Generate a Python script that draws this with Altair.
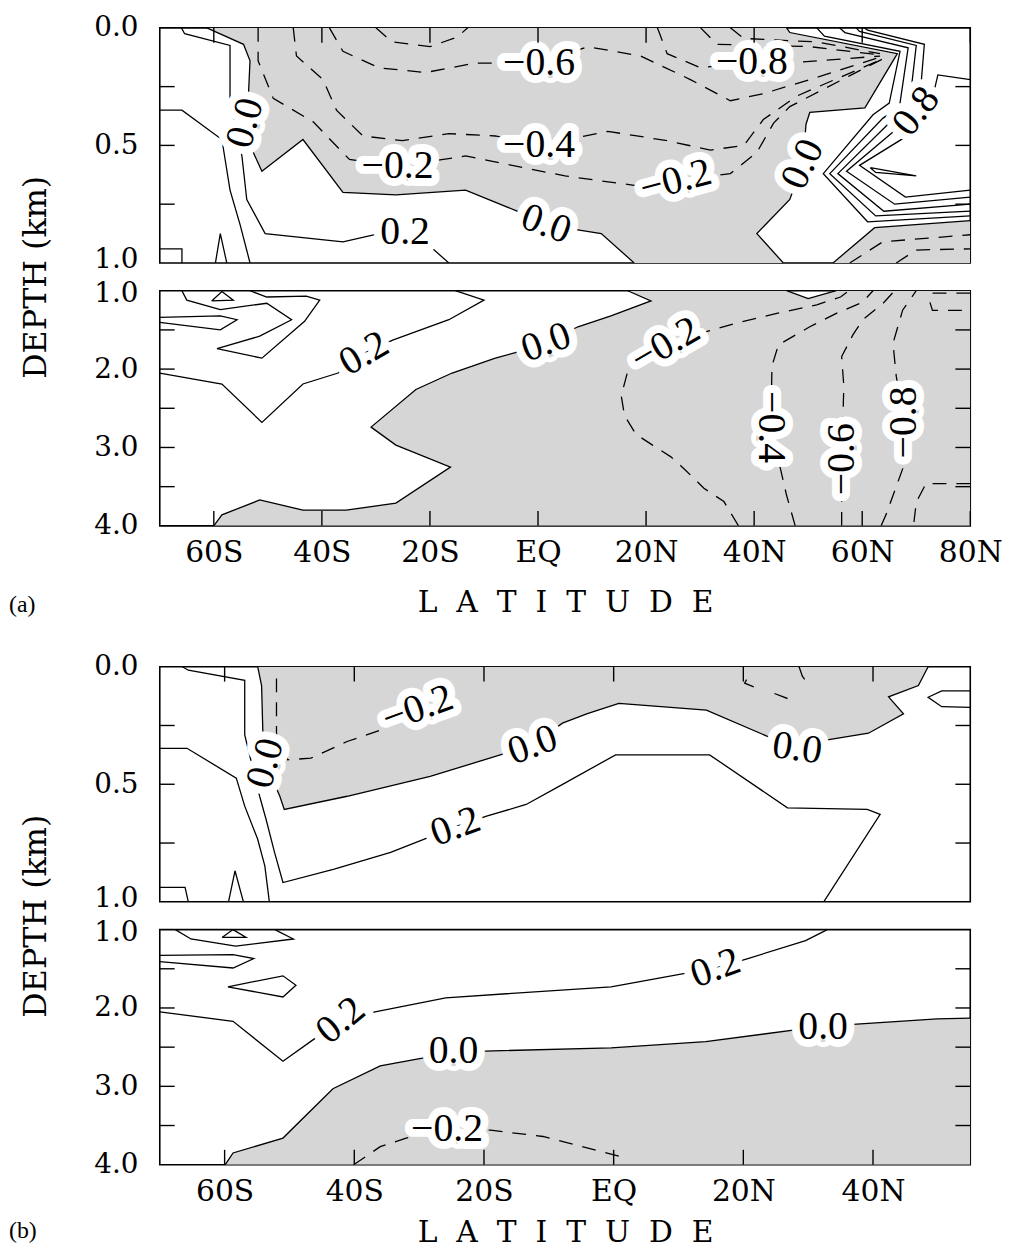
import altair as alt
import pandas as pd

FONT = "DejaVu Serif"
LABEL_FONT = "Liberation Serif"
TAG_FONT = "Liberation Serif"
SHADE = "#d6d6d6"
W = 817
H = 237
TICK = 15
LABEL_SIZE = 40
AXIS_SIZE = 28
TITLE_SIZE = 30

# ---------------- axes ----------------
LAT_DOMAIN_A = [-70, 80]
LAT_DOMAIN_B = [-70, 55]
LAT_TICKS_A = [-60, -40, -20, 0, 20, 40, 60, 80]
LAT_NAMES_A = ["60S", "40S", "20S", "EQ", "20N", "40N", "60N", "80N"]
LAT_TICKS_B = [-60, -40, -20, 0, 20, 40]
LAT_NAMES_B = ["60S", "40S", "20S", "EQ", "20N", "40N"]
DEPTH_UP = [0.0, 1.0]
DEPTH_LO = [1.0, 4.0]
DEPTH_LABELS_UP = [0.0, 0.5, 1.0]
DEPTH_LABELS_LO = [1.0, 2.0, 3.0, 4.0]
DEPTH_MINOR_UP = [0.25, 0.5, 0.75]
DEPTH_MINOR_LO = [1.5, 2.0, 2.5, 3.0, 3.5]

# ---------------- panel (a), 0-1 km: contours as (latitude, depth km) ----------------
A_UP_ZERO_W = [(-61.3, 0.0), (-54.5, 0.07), (-53.3, 0.14), (-53.6, 0.29), (-52.7, 0.53), (-51.1, 0.61),
               (-43.5, 0.475), (-36.1, 0.70), (-26.3, 0.71), (-13.4, 0.69), (-3.3, 0.785), (1.5, 0.835),
               (6.2, 0.855), (11.7, 0.875), (17.8, 1.0)]
A_UP_ZERO_E = [(46.0, 0.0), (46.6, 0.02), (66.5, 0.11), (60.5, 0.34), (50.3, 0.36), (49.6, 0.41),
               (49.0, 0.58), (46.6, 0.73), (40.5, 0.875), (45.4, 1.0)]
A_UP_ZERO_NE = [(54.6, 1.0), (62.3, 0.85), (80.0, 0.82)]
A_UP_POS_1 = [(-66.0, 0.0), (-65.4, 0.025), (-57.0, 0.075), (-57.0, 0.30), (-54.8, 0.545), (-53.9, 0.73),
              (-50.5, 0.875), (-36.1, 0.91), (-29.4, 0.875), (-24.6, 0.87), (-20.2, 0.925), (-16.5, 1.0)]
A_UP_POS_2 = [(-70.0, 0.35), (-65.9, 0.35), (-58.5, 0.475), (-57.0, 0.69), (-55.1, 0.84), (-53.3, 1.0)]
A_UP_POS_3 = [(-59.7, 1.0), (-58.8, 0.875), (-57.6, 1.0)]
A_UP_POS_4 = [(-70.0, 0.94), (-65.9, 0.94), (-65.9, 1.0)]
A_UP_FRONT_1 = [(51.6, 0.0), (53.0, 0.035), (67.0, 0.10), (65.0, 0.32), (62.0, 0.37), (52.8, 0.62),
                (61.0, 0.825), (80.0, 0.80)]
A_UP_FRONT_2 = [(55.8, 0.0), (56.8, 0.02), (68.5, 0.085), (66.9, 0.335), (63.8, 0.385), (54.0, 0.62),
                (62.5, 0.80), (80.0, 0.78)]
A_UP_FRONT_3 = [(58.9, 0.0), (59.5, 0.015), (70.0, 0.075), (68.7, 0.335), (65.0, 0.405), (55.5, 0.62),
                (64.0, 0.78), (80.0, 0.75)]
A_UP_FRONT_4 = [(60.4, 0.0), (61.0, 0.01), (71.5, 0.07), (70.6, 0.32), (66.9, 0.42), (57.1, 0.61),
                (66.0, 0.75), (80.0, 0.72)]
A_UP_FRONT_5 = [(80.0, 0.22), (74.0, 0.20), (72.5, 0.35), (69.0, 0.45), (59.5, 0.585), (68.0, 0.72),
                (80.0, 0.69)]
A_UP_PEAK = [(61.5, 0.595), (70.0, 0.63), (62.5, 0.615), (61.5, 0.595)]
A_UP_NEG_02 = [(-51.8, 0.0), (-51.8, 0.14), (-49.0, 0.30), (-41.6, 0.40), (-34.9, 0.56), (-26.0, 0.59),
               (-13.4, 0.545), (5.0, 0.63), (17.8, 0.67), (25.5, 0.65), (35.6, 0.62), (40.5, 0.53),
               (43.6, 0.405), (46.6, 0.335), (58.0, 0.20), (64.0, 0.13)]
A_UP_NEG_04 = [(-45.3, 0.0), (-44.7, 0.12), (-39.8, 0.22), (-37.3, 0.35), (-32.4, 0.46), (-25.1, 0.48),
               (-16.5, 0.45), (-7.9, 0.46), (0.2, 0.50), (12.9, 0.44), (23.9, 0.48), (31.9, 0.52),
               (38.1, 0.50), (41.7, 0.39), (47.9, 0.29), (63.5, 0.135)]
A_UP_NEG_06 = [(-38.6, 0.0), (-36.1, 0.10), (-29.4, 0.17), (-20.8, 0.19), (-11.6, 0.15), (0.2, 0.15),
               (9.2, 0.08), (19.0, 0.12), (28.2, 0.22), (35.6, 0.31), (41.7, 0.28), (50.3, 0.22),
               (63.3, 0.125)]
A_UP_NEG_08 = [(22.1, 0.0), (23.9, 0.11), (30.1, 0.17), (39.6, 0.145), (49.1, 0.145), (63.3, 0.12)]
A_UP_NEG_10 = [(30.1, 0.0), (33.1, 0.07), (50.3, 0.08), (63.3, 0.115)]
A_UP_NEG_12 = [(35.6, 0.0), (38.1, 0.045), (51.6, 0.06), (63.3, 0.11)]
A_UP_NEG_TOP = [(-30.0, 0.0), (-27.0, 0.06), (-20.0, 0.08), (-15.0, 0.04), (-13.0, 0.0)]
A_UP_NEG_NE1 = [(57.7, 1.0), (63.8, 0.91), (80.0, 0.88)]
A_UP_NEG_NE2 = [(66.3, 1.0), (70.0, 0.945), (80.0, 0.94)]
A_UP_LABELS = [("−0.6", 0.2, 0.15, 0), ("−0.4", 0.2, 0.50, 0), ("−0.2", -26.0, 0.59, 0),
               ("−0.2", 25.5, 0.65, 345), ("−0.8", 39.6, 0.145, 0), ("0.0", -54.2, 0.405, 285),
               ("0.0", 1.5, 0.835, 20), ("0.0", 49.0, 0.58, 295), ("0.2", -24.6, 0.87, 0),
               ("0.8", 70.0, 0.355, 308)]

# ---------------- panel (a), 1-4 km ----------------
A_LO_ZERO = [(-60.0, 4.0), (-58.5, 3.86), (-51.5, 3.67), (-43.5, 3.80), (-35.5, 3.80), (-26.3, 3.71),
             (-16.2, 3.25), (-26.3, 2.97), (-30.9, 2.74), (-22.6, 2.26), (-15.9, 2.05), (-7.9, 1.86),
             (-4.2, 1.79), (1.5, 1.66), (7.4, 1.46), (13.5, 1.32), (20.9, 1.13), (16.6, 1.0)]
A_LO_ZERO_V = [(46.0, 1.0), (50.0, 1.10), (55.2, 1.0)]
A_LO_POS_1 = [(-65.9, 1.0), (-65.0, 1.12), (-58.8, 1.24), (-50.2, 1.16), (-45.6, 1.37), (-51.5, 1.58),
              (-59.4, 1.74), (-51.1, 1.86), (-43.2, 1.39), (-40.4, 1.12), (-42.9, 1.07), (-50.2, 1.08),
              (-53.3, 1.0)]
A_LO_POS_2 = [(-60.4, 1.13), (-58.5, 1.01), (-56.4, 1.12), (-60.4, 1.13)]
A_LO_POS_3 = [(-70.0, 1.34), (-58.8, 1.32), (-55.7, 1.37), (-58.8, 1.50), (-70.0, 1.405)]
A_LO_POS_02 = [(-70.0, 2.05), (-58.5, 2.19), (-51.1, 2.68), (-43.5, 2.19), (-37.0, 2.05), (-32.2, 1.80),
               (-26.9, 1.63), (-16.5, 1.37), (-10.0, 1.12), (-15.3, 1.0)]
A_LO_NEG_02 = [(37.1, 4.0), (34.4, 3.69), (30.7, 3.52), (27.3, 3.29), (24.6, 3.12), (21.2, 2.97),
               (18.1, 2.83), (16.0, 2.59), (15.4, 2.34), (16.6, 2.03), (23.6, 1.69), (31.3, 1.52),
               (36.8, 1.41), (44.2, 1.29), (51.6, 1.18), (56.0, 1.08), (57.5, 1.0)]
A_LO_NEG_04 = [(47.6, 4.0), (46.0, 3.61), (43.1, 2.74), (43.3, 1.96), (44.5, 1.69), (50.3, 1.46),
               (55.5, 1.28), (60.0, 1.15), (62.0, 1.0)]
A_LO_NEG_06 = [(56.2, 4.0), (56.2, 3.78), (56.2, 3.15), (56.6, 2.22), (56.2, 1.84), (58.3, 1.56),
               (60.1, 1.37), (64.0, 1.15), (66.0, 1.0)]
A_LO_NEG_08 = [(63.5, 4.0), (64.4, 3.86), (67.5, 3.27), (67.8, 2.68), (66.3, 2.09), (65.7, 1.67),
               (67.5, 1.245), (69.0, 1.1), (70.0, 1.0)]
A_LO_NEG_10 = [(80.0, 3.46), (71.8, 3.46), (70.0, 3.7), (69.5, 4.0)]
A_LO_NEG_12 = [(80.0, 1.03), (73.0, 1.03), (72.5, 1.14), (73.0, 1.25), (80.0, 1.25)]
A_LO_LABELS = [("0.2", -32.2, 1.80, 330), ("0.0", 1.5, 1.66, 340), ("−0.2", 23.6, 1.69, 330),
               ("−0.4", 43.1, 2.74, 90), ("−0.6", 56.2, 3.15, 270), ("−0.8", 67.8, 2.68, 270)]

# ---------------- panel (b), 0-1 km ----------------
B_UP_ZERO = [(-54.9, 0.0), (-54.3, 0.08), (-54.1, 0.283), (-53.7, 0.41), (-51.5, 0.55), (-50.8, 0.607),
             (-41.1, 0.551), (-28.3, 0.466), (-16.6, 0.368), (-12.5, 0.333), (-7.9, 0.24), (-4.05, 0.2),
             (0.8, 0.156), (14.3, 0.185), (23.8, 0.297), (28.3, 0.347), (33.2, 0.31), (39.3, 0.283),
             (44.7, 0.2), (42.4, 0.128), (47.0, 0.08), (48.5, 0.0)]
B_UP_POS_1 = [(-66.5, 0.0), (-65.6, 0.015), (-56.9, 0.058), (-56.9, 0.29), (-54.6, 0.551), (-53.6, 0.65),
              (-52.3, 0.79), (-51.0, 0.918), (-43.1, 0.861), (-34.4, 0.79), (-29.3, 0.734), (-24.4, 0.68),
              (-19.6, 0.636), (-13.5, 0.586), (-8.5, 0.51), (0.3, 0.375), (14.8, 0.375), (26.8, 0.6),
              (39.1, 0.607), (41.1, 0.628), (32.4, 1.0)]
B_UP_POS_2 = [(-70.0, 0.347), (-65.8, 0.347), (-58.2, 0.474), (-56.9, 0.593), (-54.9, 0.734), (-53.8, 0.847),
              (-53.1, 1.0)]
B_UP_POS_3 = [(-59.4, 1.0), (-58.4, 0.868), (-57.1, 1.0)]
B_UP_POS_4 = [(-70.0, 0.939), (-66.1, 0.939), (-65.6, 1.0)]
B_UP_POS_5 = [(55.0, 0.103), (50.6, 0.103), (48.5, 0.13), (50.6, 0.17), (55.0, 0.173)]
B_UP_NEG_02 = [(-52.0, 0.05), (-52.0, 0.283), (-50.3, 0.396), (-46.7, 0.389), (-41.1, 0.318), (-36.0, 0.27),
               (-30.2, 0.178)]
B_UP_NEG_S1 = [(20.5, 0.055), (20.2, 0.07), (21.8, 0.088)]
B_UP_NEG_S2 = [(24.8, 0.114), (26.8, 0.135), (27.9, 0.125)]
B_UP_NEG_S3 = [(28.6, 0.0), (29.1, 0.04), (29.9, 0.07)]
B_UP_LABELS = [("0.0", -53.7, 0.41, 285), ("−0.2", -30.2, 0.178, 340), ("0.0", -12.5, 0.333, 340),
               ("0.2", -24.4, 0.68, 340), ("0.0", 28.3, 0.347, 8)]

# ---------------- panel (b), 1-4 km ----------------
B_LO_ZERO = [(-59.9, 4.0), (-58.7, 3.85), (-51.0, 3.66), (-43.3, 3.03), (-36.0, 2.74), (-29.5, 2.64),
             (-24.7, 2.55), (-19.8, 2.55), (-0.4, 2.51), (14.2, 2.43), (28.0, 2.28), (32.3, 2.24),
             (36.9, 2.21), (49.9, 2.14), (55.0, 2.13)]
B_LO_POS_1 = [(-67.6, 1.0), (-65.2, 1.12), (-58.3, 1.21), (-49.4, 1.12), (-51.8, 1.02), (-52.2, 1.0)]
B_LO_POS_2 = [(-60.4, 1.10), (-58.7, 1.0), (-56.7, 1.10), (-60.4, 1.10)]
B_LO_POS_3 = [(-70.0, 1.33), (-58.7, 1.32), (-55.5, 1.37), (-58.7, 1.49), (-70.0, 1.41)]
B_LO_POS_4 = [(-59.5, 1.73), (-51.0, 1.59), (-49.0, 1.71), (-51.0, 1.86), (-59.5, 1.73)]
B_LO_POS_02 = [(-70.0, 2.05), (-58.7, 2.17), (-51.0, 2.68), (-46.6, 2.42), (-42.1, 2.16), (-36.8, 2.05),
               (-25.9, 1.87), (-0.4, 1.73), (11.0, 1.56), (15.7, 1.49), (20.7, 1.37), (29.6, 1.14),
               (32.5, 1.02), (32.9, 1.0)]
B_LO_NEG_02 = [(-40.1, 4.0), (-36.0, 3.77), (-32.0, 3.66), (-25.7, 3.55), (-19.0, 3.56), (-10.9, 3.64),
               (1.3, 3.90), (1.7, 3.92)]
B_LO_LABELS = [("0.2", -42.1, 2.16, 320), ("0.2", 15.7, 1.49, 340), ("0.0", -24.7, 2.55, 0),
               ("0.0", 32.3, 2.24, 0), ("−0.2", -25.7, 3.55, 0)]

LAT_TITLE = "\u00a0\u00a0".join("LATITUDE")
DEPTH_TITLE = "DEPTH (km)"


def lines_df(lines):
    rows = []
    for g, pts in enumerate(lines):
        for i, (la, de) in enumerate(pts):
            rows.append({"lat": la, "dep": de, "g": g, "i": i})
    return pd.DataFrame(rows)


def labels_df(labels):
    return pd.DataFrame(labels, columns=["text", "lat", "dep", "angle"])


def label_expr(ticks, names):
    expr = "''"
    for t, n in reversed(list(zip(ticks, names))):
        expr = f"datum.value == {t} ? '{n}' : {expr}"
    return expr


def panel(xdom, ydom, xticks, xnames, polys, solids, dashes, labels, yvals, yminor,
          upper, depth_title, tag="", tag_y=0, lat_title_y=0):
    xs = alt.Scale(domain=xdom, nice=False, zero=False)
    ys = alt.Scale(domain=ydom, reverse=True, nice=False, zero=False)
    if upper:
        xaxis = None
    else:
        xaxis = alt.Axis(values=xticks, labelExpr=label_expr(xticks, xnames), ticks=False, tickSize=0,
                         domain=False, grid=False, labelFont=FONT, labelFontSize=TITLE_SIZE,
                         labelPadding=12, labelFlush=False, labelOverlap=False, labelColor="black",
                         title=LAT_TITLE, titleFont=FONT, titleFontSize=TITLE_SIZE,
                         titleFontWeight="normal", titleColor="black", titleBaseline="middle",
                         titleY=lat_title_y)
    if depth_title:
        tkw = dict(title=DEPTH_TITLE, titleX=-125, titleY=H + 14, titleAngle=270, titleAlign="center",
                   titleBaseline="middle", titleFont=FONT, titleFontSize=32,
                   titleFontWeight="normal", titleColor="black")
    else:
        tkw = dict(title=None)
    # the two "1.0" labels at the break of the depth axis are nudged apart a little
    shift = -3 if upper else 3
    yaxis = alt.Axis(values=yvals, format=".1f", ticks=False, tickSize=0, domain=False, grid=False,
                     labelFont=FONT, labelFontSize=AXIS_SIZE, labelPadding=22, labelColor="black",
                     labelOffset={"condition": {"test": "datum.value == 1", "value": shift}, "value": 0},
                     **tkw)
    X = alt.X("lat:Q", scale=xs, axis=xaxis)
    Y = alt.Y("dep:Q", scale=ys, axis=yaxis)

    layers = []
    layers.append(alt.Chart(lines_df(polys)).mark_line(fill=SHADE, strokeOpacity=0, clip=True).encode(
        x=X, y=Y, detail="g:N", order="i:Q"))
    layers.append(alt.Chart(lines_df(solids)).mark_line(color="black", strokeWidth=1.3, clip=True).encode(
        x=X, y=Y, detail="g:N", order="i:Q"))
    layers.append(alt.Chart(lines_df(dashes)).mark_line(color="black", strokeWidth=1.3, strokeDash=[14, 10],
                                                        clip=True).encode(
        x=X, y=Y, detail="g:N", order="i:Q"))
    ldf = labels_df(labels)
    layers.append(alt.Chart(ldf).mark_text(font=LABEL_FONT, fontSize=LABEL_SIZE, fill="white", stroke="white",
                                           strokeWidth=16, strokeJoin="round").encode(
        x=X, y=Y, text="text:N", angle=alt.Angle("angle:Q", scale=None)))
    layers.append(alt.Chart(ldf).mark_text(font=LABEL_FONT, fontSize=LABEL_SIZE, color="black").encode(
        x=X, y=Y, text="text:N", angle=alt.Angle("angle:Q", scale=None)))
    tdf = pd.DataFrame({"lat": xticks})
    if upper:
        layers.append(alt.Chart(tdf).mark_rule(color="black", strokeWidth=1.4).encode(
            x=X, y=alt.value(0), y2=alt.value(TICK)))
    else:
        layers.append(alt.Chart(tdf).mark_rule(color="black", strokeWidth=1.4).encode(
            x=X, y=alt.value(H - TICK), y2=alt.value(H)))
    mdf = pd.DataFrame({"dep": yminor})
    layers.append(alt.Chart(mdf).mark_rule(color="black", strokeWidth=1.4).encode(
        y=Y, x=alt.value(0), x2=alt.value(TICK)))
    layers.append(alt.Chart(mdf).mark_rule(color="black", strokeWidth=1.4).encode(
        y=Y, x=alt.value(W - TICK), x2=alt.value(W)))
    if tag:
        layers.append(alt.Chart(pd.DataFrame({"t": [tag]})).mark_text(
            font=TAG_FONT, fontSize=24, align="left", baseline="middle", color="black").encode(
            x=alt.value(-152), y=alt.value(tag_y), text="t:N"))
    return alt.layer(*layers).properties(width=W, height=H)


a_up = panel(LAT_DOMAIN_A, DEPTH_UP, LAT_TICKS_A, LAT_NAMES_A,
             [A_UP_ZERO_W + A_UP_ZERO_E[::-1], A_UP_ZERO_NE + [(80.0, 1.0)]],
             [A_UP_ZERO_W, A_UP_ZERO_E, A_UP_ZERO_NE, A_UP_POS_1, A_UP_POS_2, A_UP_POS_3, A_UP_POS_4,
              A_UP_FRONT_1, A_UP_FRONT_2, A_UP_FRONT_3, A_UP_FRONT_4, A_UP_FRONT_5, A_UP_PEAK],
             [A_UP_NEG_02, A_UP_NEG_04, A_UP_NEG_06, A_UP_NEG_08, A_UP_NEG_10, A_UP_NEG_12, A_UP_NEG_TOP,
              A_UP_NEG_NE1, A_UP_NEG_NE2],
             A_UP_LABELS, DEPTH_LABELS_UP, DEPTH_MINOR_UP, True, True)

a_lo = panel(LAT_DOMAIN_A, DEPTH_LO, LAT_TICKS_A, LAT_NAMES_A,
             [A_LO_ZERO + A_LO_ZERO_V + [(80.0, 1.0), (80.0, 4.0)]],
             [A_LO_ZERO, A_LO_ZERO_V, A_LO_POS_1, A_LO_POS_2, A_LO_POS_3, A_LO_POS_02],
             [A_LO_NEG_02, A_LO_NEG_04, A_LO_NEG_06, A_LO_NEG_08, A_LO_NEG_10, A_LO_NEG_12],
             A_LO_LABELS, DEPTH_LABELS_LO, DEPTH_MINOR_LO, False, False,
             tag="(a)", tag_y=H + 80, lat_title_y=77)

b_up = panel(LAT_DOMAIN_B, DEPTH_UP, LAT_TICKS_B, LAT_NAMES_B,
             [B_UP_ZERO],
             [B_UP_ZERO, B_UP_POS_1, B_UP_POS_2, B_UP_POS_3, B_UP_POS_4, B_UP_POS_5],
             [B_UP_NEG_02, B_UP_NEG_S1, B_UP_NEG_S2, B_UP_NEG_S3],
             B_UP_LABELS, DEPTH_LABELS_UP, DEPTH_MINOR_UP, True, True)

b_lo = panel(LAT_DOMAIN_B, DEPTH_LO, LAT_TICKS_B, LAT_NAMES_B,
             [B_LO_ZERO + [(55.0, 4.0)]],
             [B_LO_ZERO, B_LO_POS_1, B_LO_POS_2, B_LO_POS_3, B_LO_POS_4, B_LO_POS_02],
             [B_LO_NEG_02],
             B_LO_LABELS, DEPTH_LABELS_LO, DEPTH_MINOR_LO, False, False,
             tag="(b)", tag_y=H + 67, lat_title_y=68)

spacer = alt.Chart(pd.DataFrame({"v": [0]})).mark_point(opacity=0).encode(
    x=alt.X("v:Q", axis=None), y=alt.Y("v:Q", axis=None)
).properties(width=W, height=86, view=alt.ViewBackground(stroke="transparent"))

chart = alt.vconcat(a_up, a_lo, spacer, b_up, b_lo, spacing=28, bounds="flush").properties(
    padding={"left": 0, "top": 0, "right": 0, "bottom": 0}
).configure_view(stroke="black", strokeWidth=1.6)

chart.save("out.html", embed_options={"renderer": "svg", "actions": False})
